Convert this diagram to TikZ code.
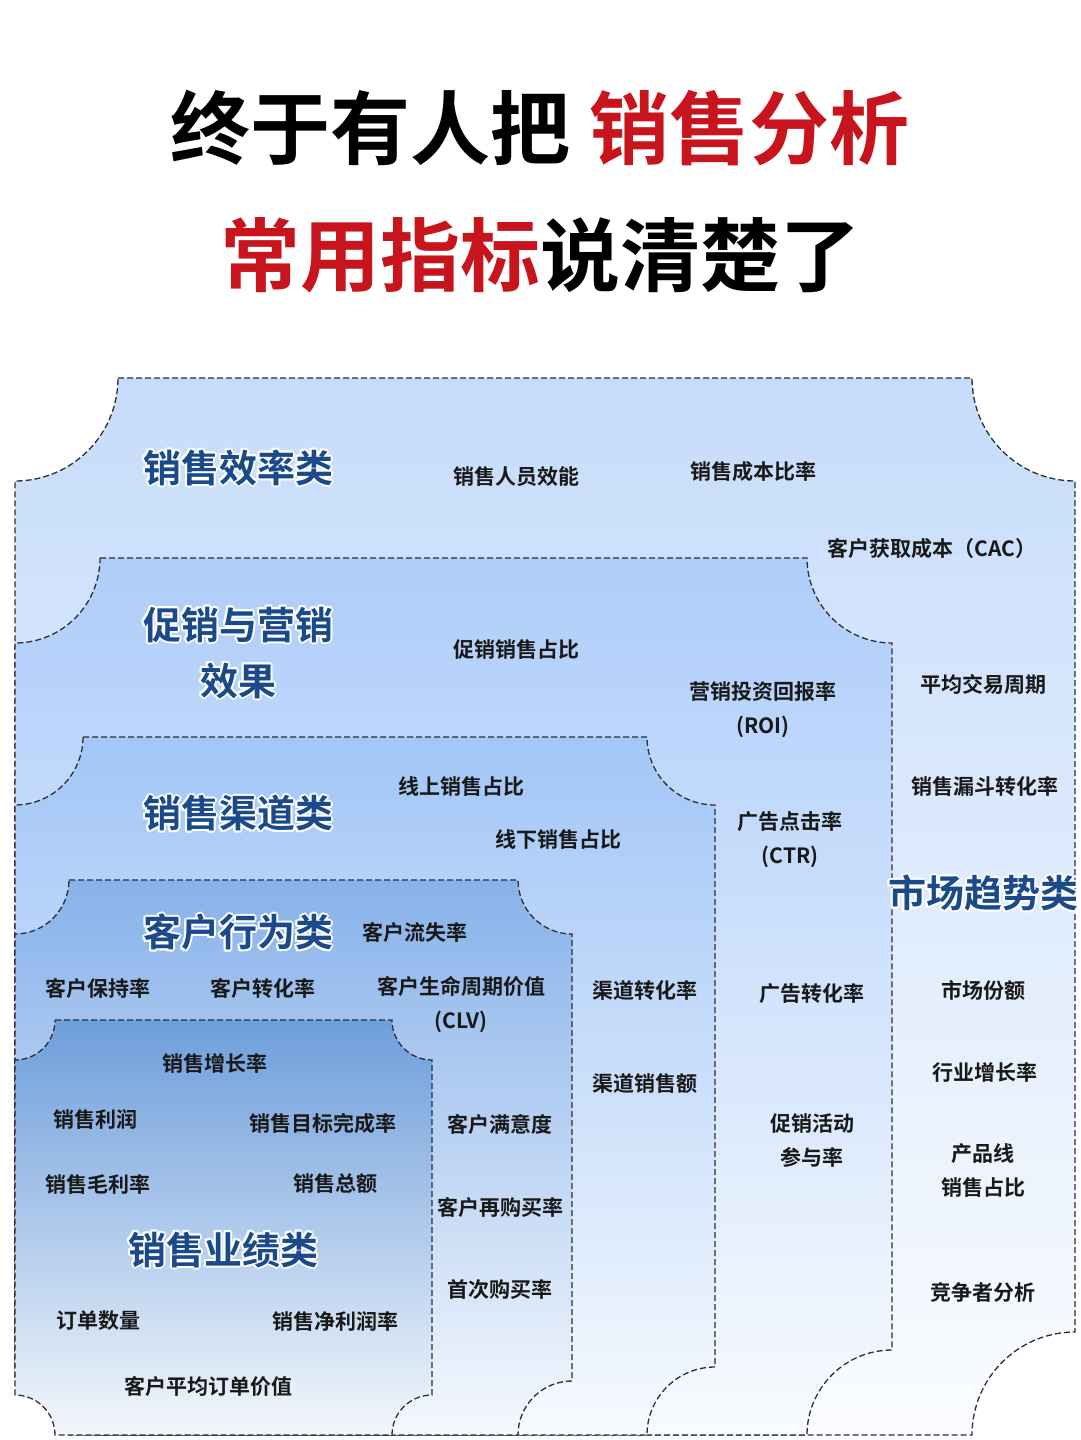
\documentclass[tikz,border=0pt]{standalone}
\usepackage{fontspec}
\newfontfamily\cjk{Noto Sans CJK SC}[BoldFont={* Bold}]
\definecolor{tred}{HTML}{C8141C}
\definecolor{cblue}{HTML}{1A4A8A}
\definecolor{dline}{HTML}{2A2F38}
\definecolor{pa}{HTML}{C6DCFB}
\definecolor{pb}{HTML}{AECDFA}
\definecolor{pc}{HTML}{A2C6F7}
\definecolor{pd}{HTML}{88B2EA}
\definecolor{pe}{HTML}{6E9EDB}
\newcommand\ticket[6]{% x1 y1 x2 y2 r topcolor
  \path[draw=dline,line width=1.3pt,dash pattern=on 6pt off 3pt,top color=#6,bottom color=white!92!#6,middle color=#6!55!white]
  (#1+#5,-#2) -- (#3-#5,-#2) arc[start angle=180,end angle=270,radius=#5]
  -- (#3,-#4+#5) arc[start angle=90,end angle=180,radius=#5]
  -- (#1+#5,-#4) arc[start angle=0,end angle=90,radius=#5]
  -- (#1,-#2-#5) arc[start angle=270,end angle=360,radius=#5] -- cycle;}
\newcommand\cat[3]{%
  \foreach \dx/\dy in {2/0,-2/0,0/2,0/-2,1.5/1.5,-1.5/1.5,1.5/-1.5,-1.5/-1.5}
    \node[text=white,font=\cjk\bfseries\fontsize{38}{56}\selectfont,align=center] at (#1+\dx,-#2+\dy) {#3};
  \node[text=cblue,font=\cjk\bfseries\fontsize{38}{56}\selectfont,align=center] at (#1,-#2) {#3};}
\tikzset{m/.style={font=\cjk\bfseries\fontsize{21}{34}\selectfont,align=center,text=black!90}}
\newcommand\met[3]{\node[m] at (#1,-#2) {#3};}
\begin{document}
\begin{tikzpicture}[x=1pt,y=1pt]
\fill[white] (0,0) rectangle (1080,-1440);
\useasboundingbox (0,0) rectangle (1080,-1440);
\node[font=\cjk\bfseries\fontsize{80}{90}\selectfont] (t1) at (540,-128) {终于有人把 \textcolor{tred}{销售分析}};
\node[font=\cjk\bfseries\fontsize{80}{90}\selectfont] (t2) at (540,-255) {\textcolor{tred}{常用指标}说清楚了};
\ticket{15}{378}{1075}{1435}{103}{pa}
\ticket{15}{558}{892}{1435}{85}{pb}
\ticket{15}{737}{715}{1435}{68}{pc}
\ticket{15}{880}{572}{1435}{54}{pd}
\ticket{15}{1020}{432}{1435}{40}{pe}
\cat{238}{468}{销售效率类}
\cat{238}{653}{促销与营销\\效果}
\cat{238}{813}{销售渠道类}
\cat{983}{893}{市场趋势类}
\cat{238}{932}{客户行为类}
\cat{223}{1250}{销售业绩类}
\met{516}{477}{销售人员效能}
\met{753}{472}{销售成本比率}
\met{932}{549}{客户获取成本（CAC）}
\met{516}{649}{促销销售占比}
\met{763}{710}{营销投资回报率\\(ROI)}
\met{983}{684}{平均交易周期}
\met{985}{787}{销售漏斗转化率}
\met{461}{786}{线上销售占比}
\met{558}{839}{线下销售占比}
\met{790}{840}{广告点击率\\(CTR)}
\met{415}{932}{客户流失率}
\met{98}{988}{客户保持率}
\met{263}{988}{客户转化率}
\met{461}{1005}{客户生命周期价值\\(CLV)}
\met{645}{990}{渠道转化率}
\met{812}{994}{广告转化率}
\met{983}{990}{市场份额}
\met{215}{1063}{销售增长率}
\met{645}{1083}{渠道销售额}
\met{985}{1072}{行业增长率}
\met{95}{1119}{销售利润}
\met{323}{1124}{销售目标完成率}
\met{500}{1124}{客户满意度}
\met{812}{1141}{促销活动\\参与率}
\met{983}{1170}{产品线\\销售占比}
\met{98}{1184}{销售毛利率}
\met{335}{1184}{销售总额}
\met{500}{1207}{客户再购买率}
\met{500}{1290}{首次购买率}
\met{983}{1292}{竞争者分析}
\met{98}{1321}{订单数量}
\met{335}{1321}{销售净利润率}
\met{208}{1386}{客户平均订单价值}
\end{tikzpicture}
\end{document}
